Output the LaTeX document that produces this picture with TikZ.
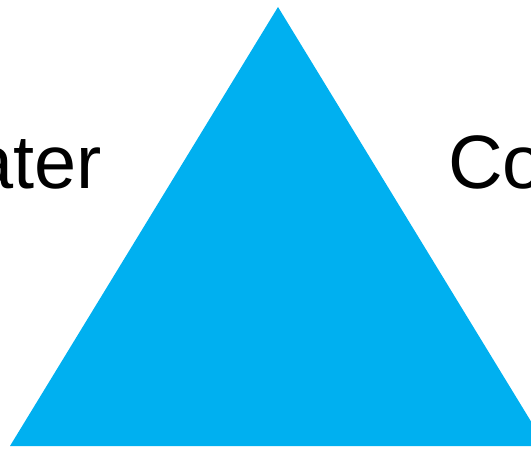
\documentclass[tikz,border=0pt]{standalone}
\usepackage{fontspec}
\setmainfont{Liberation Sans}
\definecolor{triblue}{HTML}{00B0F0}
\begin{document}
\begin{tikzpicture}[x=1bp,y=-1bp,
  lbl/.style={inner sep=0pt,outer sep=0pt,font=\fontsize{76}{80}\selectfont}]
\useasboundingbox (0,0) rectangle (531,449);
\clip (0,0) rectangle (531,449);
\coordinate (apex) at (278,7);
\coordinate (bl) at (10,446);
\coordinate (br) at (546,446);
\fill[triblue] (apex) -- (br) -- (bl) -- cycle;
\node[lbl,anchor=base east] (left) at (102,189) {ater};
\node[lbl,anchor=base west] (right) at (448,189) {Co};
\end{tikzpicture}
\end{document}
